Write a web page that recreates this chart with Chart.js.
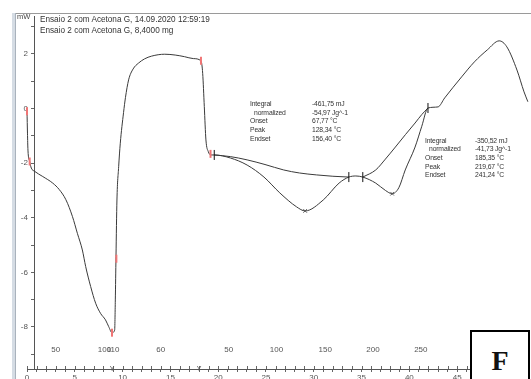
<!DOCTYPE html>
<html>
<head>
<meta charset="utf-8">
<script src="https://cdn.jsdelivr.net/npm/chart.js@4.4.1/dist/chart.umd.min.js"></script>
<style>
  html, body { margin: 0; padding: 0; background: #fff; }
  #wrap { position: relative; width: 531px; height: 379px; overflow: hidden; font-family: "Liberation Sans", Arial, sans-serif; }
  #chart { position: absolute; left: 0; top: 0; }
  .frame-left { position: absolute; left: 12px; top: 13px; width: 3px; height: 366px; background: #d5dce4; border-right: 1px solid #a9b2bc; }
  .frame-top { position: absolute; left: 16px; top: 13px; width: 515px; height: 1px; background: #9a9a9a; }
  .txt { position: absolute; color: #333; white-space: nowrap; }
  .title { left: 40px; top: 14px; font-size: 8.2px; line-height: 11px; }
  .unit { left: 17px; top: 12px; font-size: 7.5px; line-height: 9px; color: #444; }
  .res { font-size: 6.8px; line-height: 8.7px; letter-spacing: -0.15px; }
  .res .ind { padding-left: 4px; }
  .tag { position: absolute; left: 470px; top: 330px; width: 56px; height: 60px; background: #fff; border: 2px solid #000;
         font-family: "Liberation Serif", "Times New Roman", serif; font-weight: bold; font-size: 28px; text-align: center; line-height: 58px; color: #111; }
</style>
</head>
<body>
<div id="wrap">
  <canvas id="chart" width="531" height="379"></canvas>
  <div class="frame-left"></div>
  <div class="frame-top"></div>
  <div class="txt unit">mW</div>
  <div class="txt title">Ensaio 2 com Acetona G, 14.09.2020 12:59:19<br>Ensaio 2 com Acetona G, 8,4000 mg</div>

  <div class="txt res" style="left:250px; top:100px;">Integral<br><span class="ind">normalized</span><br>Onset<br>Peak<br>Endset</div>
  <div class="txt res" style="left:312px; top:100px;">-461,75 mJ<br>-54,97 Jg^-1<br>67,77 °C<br>128,34 °C<br>156,40 °C</div>

  <div class="txt res" style="left:425px; top:136.5px;">Integral<br><span class="ind">normalized</span><br>Onset<br>Peak<br>Endset</div>
  <div class="txt res" style="left:475px; top:136.5px;">-350,52 mJ<br>-41,73 Jg^-1<br>185,35 °C<br>219,67 °C<br>241,24 °C</div>

  <div class="tag">F</div>
</div>
<script>
// heat flow curve, time in min, heat flow in mW
var timeMin = [0.00, 0.05, 0.10, 0.28, 0.45, 0.80, 1.65, 2.69, 3.38, 4.07, 4.76, 5.27, 5.79, 6.14, 6.66, 7.18,
  7.69, 8.21, 8.55, 8.89, 9.17, 9.24, 9.31, 9.41, 9.59, 9.76, 10.10, 10.30, 10.63, 11.10, 11.65, 12.30,
  13.03, 14.41, 15.50, 16.48, 17.40, 18.20, 18.38, 18.55, 18.72, 18.97, 19.23, 19.59, 21.27, 23.03,
  24.79, 26.45, 28.20, 29.10, 30.99, 32.65, 33.67, 34.40, 35.13, 36.48, 37.50, 38.20, 38.90, 39.57,
  40.60, 41.30, 41.95, 43.00, 43.70, 45.47, 46.81, 48.16, 49.40, 50.20, 51.26, 52.00, 52.40];
var heatFlow = [-0.10, -0.90, -1.52, -1.94, -2.18, -2.30, -2.49, -2.73, -2.97, -3.34, -3.96, -4.57, -5.18, -5.79, -6.52, -7.13,
  -7.50, -7.74, -7.99, -8.21, -8.12, -7.01, -5.42, -3.35, -2.13, -1.27, -0.15, 0.40, 1.05, 1.45, 1.66, 1.82,
  1.92, 1.99, 1.96, 1.90, 1.83, 1.75, 1.29, 0.07, -1.15, -1.58, -1.70, -1.70, -1.81, -2.07,
  -2.51, -3.09, -3.60, -3.75, -3.35, -2.73, -2.51, -2.47, -2.51, -2.73, -3.00, -3.12, -2.90, -2.25,
  -1.41, -0.65, 0.02, 0.06, 0.39, 1.16, 1.71, 2.15, 2.48, 2.26, 1.41, 0.61, 0.25];

// integration baselines of the two peaks
var base1Time = [19.59, 21.27, 23.03, 24.90, 26.86, 28.50, 30.27, 32.00, 33.67];
var base1Flow = [-1.70, -1.76, -1.88, -2.05, -2.25, -2.36, -2.43, -2.48, -2.51];
var base2Time = [35.13, 36.48, 37.50, 38.54, 39.60, 40.60, 41.30, 41.95];
var base2Flow = [-2.51, -2.25, -1.85, -1.41, -0.95, -0.53, -0.22, 0.02];

// marks on the curve
var segMarkTime = [0.00, 0.28, 8.89, 9.35, 18.20, 19.20];
var segMarkFlow = [-0.10, -1.94, -8.21, -5.50, 1.75, -1.66];
var limitTime = [19.59, 33.67, 35.13, 41.95];
var limitFlow = [-1.70, -2.51, -2.51, 0.02];
var peakTime = [29.10, 38.20];
var peakFlow = [-3.75, -3.12];

// axis ticks
var xTickValues = [];
for (var i = 0; i <= 52; i++) xTickValues.push(i);
var yTickValues = [-9, -8, -7, -6, -5, -4, -3, -2, -1, 0, 1, 2, 3];

// temperature labels along the time axis (°C) and segment ends
var tempLabels = ['50', '100', '110', '60', '50', '100', '150', '200', '250'];
var tempTimes = [3.0, 8.1, 9.0, 14.0, 21.1, 26.1, 31.2, 36.2, 41.2];
var segmentEnds = [8.9, 18.0];

function pts(xs, ys) {
  return xs.map(function (x, i) { return { x: x, y: ys[i] }; });
}

var axisExtras = {
  id: 'axisExtras',
  afterDraw: function (chart) {
    var ctx = chart.ctx, x = chart.scales.x;
    var axisY = x.top;
    ctx.save();
    ctx.strokeStyle = '#666';
    ctx.lineWidth = 1;
    // ticks cross the time axis
    x.ticks.forEach(function (t) {
      var px = Math.round(x.getPixelForValue(t.value)) + 0.5;
      ctx.beginPath();
      ctx.moveTo(px, axisY - 3);
      ctx.lineTo(px, axisY);
      ctx.stroke();
    });
    ctx.fillStyle = '#555';
    ctx.font = '8px "Liberation Sans", Arial, sans-serif';
    ctx.textAlign = 'center';
    ctx.textBaseline = 'middle';
    tempLabels.forEach(function (lab, i) {
      ctx.fillText(lab, x.getPixelForValue(tempTimes[i]), axisY - 19);
    });
    ctx.font = '7px "Liberation Sans", Arial, sans-serif';
    segmentEnds.forEach(function (t) {
      ctx.fillText('Y', x.getPixelForValue(t), axisY);
    });
    ctx.restore();
  }
};

new Chart('chart', {
  type: 'line',
  data: {
    datasets: [
      {
        data: pts(segMarkTime, segMarkFlow), showLine: false, order: 0, clip: 8,
        pointStyle: 'line', rotation: 90, pointRadius: 4, borderColor: '#f07575', borderWidth: 2
      },
      {
        data: pts(limitTime, limitFlow), showLine: false, order: 1, clip: 8,
        pointStyle: 'line', rotation: 90, pointRadius: 5, borderColor: '#111', borderWidth: 1
      },
      {
        data: pts(peakTime, peakFlow), showLine: false, order: 2,
        pointStyle: 'crossRot', pointRadius: 2.5, borderColor: '#555', borderWidth: 1
      },
      {
        data: pts(timeMin, heatFlow), order: 3, borderColor: '#3a3a3a', borderWidth: 1,
        pointRadius: 0, cubicInterpolationMode: 'monotone', clip: 4
      },
      {
        data: pts(base1Time, base1Flow), order: 4, borderColor: '#3a3a3a', borderWidth: 1,
        pointRadius: 0, cubicInterpolationMode: 'monotone'
      },
      {
        data: pts(base2Time, base2Flow), order: 5, borderColor: '#3a3a3a', borderWidth: 1,
        pointRadius: 0, cubicInterpolationMode: 'monotone'
      }
    ]
  },
  options: {
    responsive: false,
    animation: false,
    layout: { padding: { left: 27, right: 0, top: 16, bottom: 0 } },
    plugins: { legend: { display: false }, tooltip: { enabled: false } },
    scales: {
      x: {
        type: 'linear', min: 0, max: 52.1, position: 'bottom',
        afterBuildTicks: function (s) { s.ticks = xTickValues.map(function (v) { return { value: v }; }); },
        afterFit: function (s) { s.height = 10; s.paddingLeft = 0; s.paddingRight = 0; },
        ticks: {
          autoSkip: false, maxRotation: 0, padding: 1, color: '#555',
          font: { family: '"Liberation Sans", Arial, sans-serif', size: 8 },
          callback: function (v) { return v % 5 === 0 ? String(v) : ''; }
        },
        grid: { drawOnChartArea: false, tickLength: 3, color: '#666' },
        border: { color: '#555' }
      },
      y: {
        type: 'linear', min: -9.54, max: 3.39, position: { x: 0.8 },
        afterBuildTicks: function (s) { s.ticks = yTickValues.map(function (v) { return { value: v }; }); },
        afterFit: function (s) { s.paddingTop = 0; s.paddingBottom = 0; },
        ticks: {
          autoSkip: false, color: '#555',
          font: { family: '"Liberation Sans", Arial, sans-serif', size: 8 },
          // the axis sits inside the plot, so keep labels clear of its tick marks
          callback: function (v) { return v % 2 === 0 ? String(v) + '   ' : ''; }
        },
        grid: { drawOnChartArea: false, tickLength: 3, color: '#666' },
        border: { color: '#555' }
      }
    }
  },
  plugins: [axisExtras]
});
</script>
</body>
</html>
